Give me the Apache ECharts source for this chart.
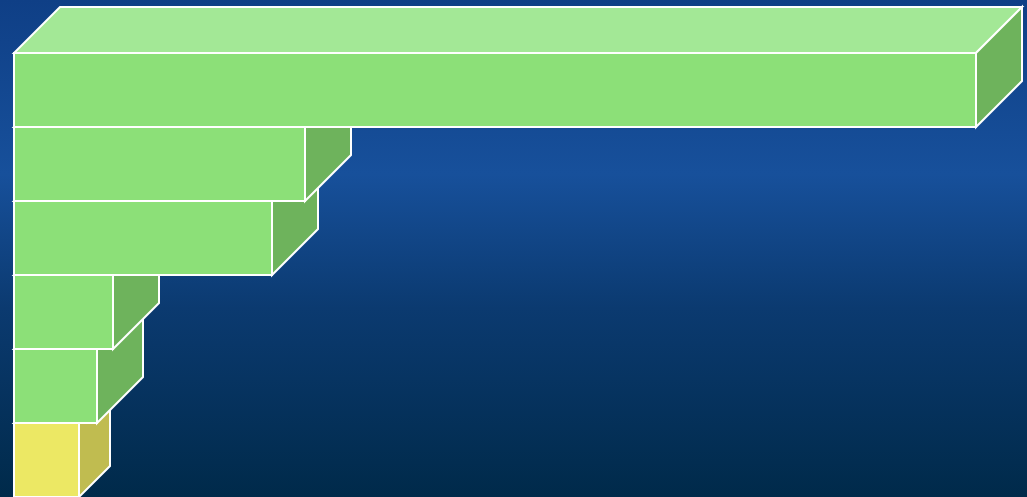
<!DOCTYPE html>
<html>
<head>
<meta charset="utf-8">
<style>html,body{margin:0;padding:0;background:#0b3a70;}#chart{width:1027px;height:497px;}</style>
<script src="https://cdn.jsdelivr.net/npm/echarts@6/dist/echarts.min.js"></script>
</head>
<body>
<div id="chart"></div>
<script>
const categories = ['Bar 1', 'Bar 2', 'Bar 3', 'Bar 4', 'Bar 5', 'Bar 6'];
const values = [962, 291, 258, 99, 83, 65];
const frontColors = ['#8ce078', '#8ce078', '#8ce078', '#8ce078', '#8ce078', '#ece864'];
const sideColors = ['#6eb35c', '#6eb35c', '#6eb35c', '#6eb35c', '#6eb35c', '#c0bc50'];
const topColors = ['#a3e896', '#a3e896', '#a3e896', '#a3e896', '#a3e896', '#f4f09a'];

const chart = echarts.init(document.getElementById('chart'), null, {renderer: 'canvas'});

chart.setOption({
  animation: false,
  backgroundColor: {
    type: 'linear', x: 0, y: 0, x2: 0, y2: 1,
    colorStops: [
      {offset: 0, color: '#0f3f86'},
      {offset: 0.35, color: '#17509b'},
      {offset: 0.62, color: '#0b3a70'},
      {offset: 1, color: '#002a4a'}
    ]
  },
  grid: {left: 14, right: 51, top: 53, bottom: 0, containLabel: false},
  xAxis: {type: 'value', min: 0, max: values[0], show: false},
  yAxis: {type: 'category', data: categories, inverse: true, show: false},
  series: [{
    type: 'custom',
    data: values.map((v, i) => [v, i]),
    encode: {x: 0, y: 1},
    renderItem: function (params, api) {
      const i = api.value(1);
      const v = api.value(0);
      const p0 = api.coord([0, i]);
      const p1 = api.coord([v, i]);
      const h = api.size([0, 1])[1];
      const d = (i === categories.length - 1) ? 31 : 46;
      const x0 = p0[0], x1 = p1[0];
      const yT = p0[1] - h / 2, yB = p0[1] + h / 2;
      const z = 10 * (categories.length - i);
      const style = (c) => ({fill: c, stroke: '#ffffff', lineWidth: 2, lineJoin: 'miter'});
      return {
        type: 'group',
        children: [
          {type: 'polygon', z2: z, shape: {points: [[x0, yT], [x1, yT], [x1 + d, yT - d], [x0 + d, yT - d]]}, style: style(topColors[i])},
          {type: 'polygon', z2: z + 1, shape: {points: [[x1, yT], [x1 + d, yT - d], [x1 + d, yB - d], [x1, yB]]}, style: style(sideColors[i])},
          {type: 'polygon', z2: z + 2, shape: {points: [[x0, yT], [x1, yT], [x1, yB], [x0, yB]]}, style: style(frontColors[i])}
        ]
      };
    }
  }]
});
</script>
</body>
</html>
